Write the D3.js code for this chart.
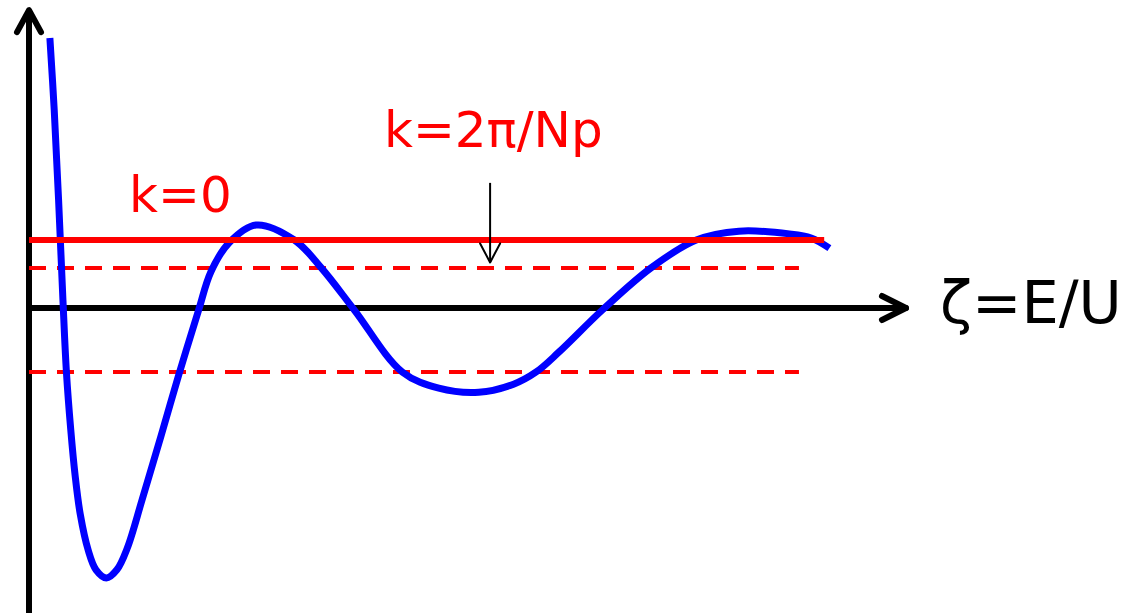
<!DOCTYPE html>
<html>
<head>
<meta charset="utf-8">
<script src="https://cdn.jsdelivr.net/npm/d3@7"></script>
<style>
  html, body { margin: 0; padding: 0; background: #fff; }
  svg { display: block; }
</style>
</head>
<body>
<script>
// Dispersion function f(ζ) sampled along ζ = E/U
const zeta = [0.24, 0.29, 0.34, 0.39, 0.43, 0.48, 0.53, 0.59, 0.68, 0.77,
              0.89, 1.01, 1.13, 1.30, 1.52, 1.72, 1.95, 2.09, 2.30, 2.61,
              3.05, 3.36, 3.74, 4.29, 4.71, 5.17, 5.57, 5.83, 6.09, 6.59,
              7.15, 7.67, 8.16, 8.74, 8.99, 9.20];
const fValue = [3.97, 2.91, 1.59, 0.12, -0.94, -1.79, -2.46, -3.04, -3.56, -3.85,
                -3.97, -3.85, -3.53, -2.82, -1.87, -0.99, -0.03, 0.53, 0.96, 1.22,
                1.00, 0.59, -0.03, -0.94, -1.18, -1.24, -1.12, -0.94, -0.65, -0.03,
                0.59, 1.00, 1.13, 1.09, 1.03, 0.88];

// Band edges: k = 0 (solid) and k = 2π/Np (dashed)
const levelK0 = 1.0;
const levelK0End = 9.14;
const bandLevels = [0.59, -0.94];
const bandEnd = 8.85;

// Axis extents
const xAxisEnd = 10.08;
const yAxisTop = 4.38;
const yAxisBottom = -4.5;

// Pointer marking the k = 2π/Np edge
const pointerX = 5.3;
const pointerFrom = 1.84;
const pointerTo = 0.67;

const labels = [
  { text: "k=0", x: 1.15, y: 1.41, color: "#ff0000", size: 50 },
  { text: "k=2π/Np", x: 4.08, y: 2.37, color: "#ff0000", size: 50 },
  { text: "ζ=E/U", x: 10.47, y: -0.22, color: "#000000", size: 59 }
];

const W = 1130, H = 613;
const x = d3.scaleLinear().domain([0, 10]).range([29, 899]);
const y = d3.scaleLinear().domain([-1, 1]).range([376, 240]);

const svg = d3.select("body").append("svg")
  .attr("width", W).attr("height", H);

// Open chevron arrowhead drawn at the end of a segment
function chevron(g, tipX, tipY, dx, dy, back, half, width, color) {
  const len = Math.hypot(dx, dy), ux = dx / len, uy = dy / len;
  const bx = tipX - ux * back, by = tipY - uy * back;
  const px = -uy * half, py = ux * half;
  g.append("path")
    .attr("d", `M${bx + px},${by + py}L${tipX},${tipY}L${bx - px},${by - py}`)
    .attr("fill", "none").attr("stroke", color)
    .attr("stroke-width", width)
    .attr("stroke-linecap", "round").attr("stroke-linejoin", "round");
}

const axes = svg.append("g");
// vertical axis
axes.append("line")
  .attr("x1", x(0)).attr("x2", x(0))
  .attr("y1", y(yAxisBottom)).attr("y2", y(yAxisTop))
  .attr("stroke", "#000").attr("stroke-width", 6);
chevron(axes, x(0), y(yAxisTop), 0, -1, 22, 12, 6, "#000");

// horizontal axis
axes.append("line")
  .attr("x1", x(0)).attr("x2", x(xAxisEnd))
  .attr("y1", y(0)).attr("y2", y(0))
  .attr("stroke", "#000").attr("stroke-width", 6).attr("stroke-linecap", "round");
chevron(axes, x(xAxisEnd), y(0), 1, 0, 24, 12, 6, "#000");

// dashed band edges
svg.selectAll("line.band").data(bandLevels).enter().append("line")
  .attr("class", "band")
  .attr("x1", x(0)).attr("x2", x(bandEnd))
  .attr("y1", d => y(d)).attr("y2", d => y(d))
  .attr("stroke", "#ff0000").attr("stroke-width", 4)
  .attr("stroke-dasharray", "17,11");

// dispersion curve
const pts = zeta.map((z, i) => [z, fValue[i]]);
svg.append("path")
  .datum(pts)
  .attr("d", d3.line().x(d => x(d[0])).y(d => y(d[1])).curve(d3.curveCatmullRom.alpha(0.5)))
  .attr("fill", "none").attr("stroke", "#0000ff").attr("stroke-width", 7)
  .attr("stroke-linejoin", "round");

// k = 0 level
svg.append("line")
  .attr("x1", x(0)).attr("x2", x(levelK0End))
  .attr("y1", y(levelK0)).attr("y2", y(levelK0))
  .attr("stroke", "#ff0000").attr("stroke-width", 6);

// pointer arrow
const ptr = svg.append("g");
ptr.append("line")
  .attr("x1", x(pointerX)).attr("x2", x(pointerX))
  .attr("y1", y(pointerFrom)).attr("y2", y(pointerTo))
  .attr("stroke", "#000").attr("stroke-width", 2);
chevron(ptr, x(pointerX), y(pointerTo), 0, 1, 19, 10, 2, "#000");

// text labels
svg.selectAll("text.lbl").data(labels).enter().append("text")
  .attr("class", "lbl")
  .attr("x", d => x(d.x)).attr("y", d => y(d.y))
  .attr("fill", d => d.color)
  .attr("font-family", "'DejaVu Sans', sans-serif")
  .attr("font-size", d => d.size)
  .text(d => d.text);
</script>
</body>
</html>
